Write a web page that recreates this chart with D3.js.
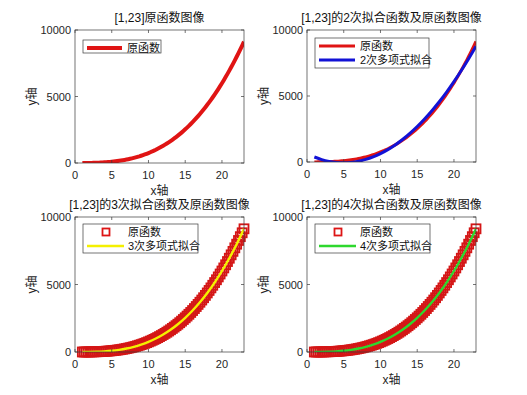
<!DOCTYPE html>
<html>
<head>
<meta charset="utf-8">
<script src="https://cdn.jsdelivr.net/npm/d3@7"></script>
<style>
  body { margin: 0; background: #fff; }
  text { font-family: "Liberation Sans", "Noto Sans CJK SC", sans-serif; fill: #262626; }
</style>
</head>
<body>
<div id="chart"></div>
<script>
// original function, sampled every 0.25
let xOrig = [1, 1.25, 1.5, 1.75, 2, 2.25, 2.5, 2.75, 3, 3.25, 3.5, 3.75, 4, 4.25, 4.5, 4.75, 5, 5.25, 5.5, 5.75,
             6, 6.25, 6.5, 6.75, 7, 7.25, 7.5, 7.75, 8, 8.25, 8.5, 8.75, 9, 9.25, 9.5, 9.75, 10, 10.25, 10.5, 10.75,
             11, 11.25, 11.5, 11.75, 12, 12.25, 12.5, 12.75, 13, 13.25, 13.5, 13.75, 14, 14.25, 14.5, 14.75, 15, 15.25, 15.5, 15.75,
             16, 16.25, 16.5, 16.75, 17, 17.25, 17.5, 17.75, 18, 18.25, 18.5, 18.75, 19, 19.25, 19.5, 19.75, 20, 20.25, 20.5, 20.75,
             21, 21.25, 21.5, 21.75, 22, 22.25, 22.5, 22.75, 23]
let yOrig = [1, 1, 3, 4, 6, 9, 12, 16, 20, 26, 32, 40, 48, 58, 68, 80, 94, 109, 125, 143,
             162, 183, 206, 231, 257, 286, 316, 349, 384, 421, 461, 502, 547, 594, 643, 695, 750, 808, 868, 932,
             998, 1068, 1141, 1217, 1296, 1379, 1465, 1555, 1648, 1745, 1845, 1950, 2058, 2170, 2286, 2407, 2531, 2660, 2793, 2930,
             3072, 3218, 3369, 3525, 3685, 3850, 4020, 4194, 4374, 4559, 4749, 4944, 5144, 5350, 5561, 5778, 6000, 6228, 6461, 6701,
             6946, 7197, 7454, 7717, 7986, 8261, 8543, 8831, 9125]

// fitted polynomials, sampled at integers
let xFit = [1, 2, 3, 4, 5, 6, 7, 8, 9, 10, 11, 12, 13, 14, 15, 16, 17, 18, 19, 20, 21, 22, 23]
let yFit2 = [380, 180, 40, -40, -64, -31, 55, 195, 389, 637, 940, 1296, 1706, 2171, 2689, 3261, 3887, 4568, 5302, 6090, 6932, 7829, 8760]
let yFit3 = [1, 6, 20, 48, 94, 162, 257, 384, 547, 750, 998, 1296, 1648, 2058, 2531, 3072, 3685, 4374, 5144, 6000, 6946, 7986, 9125]
let yFit4 = [1, 6, 20, 48, 94, 162, 257, 384, 547, 750, 998, 1296, 1648, 2058, 2531, 3072, 3685, 4374, 5144, 6000, 6946, 7986, 9125]

let xTicks = [0, 5, 10, 15, 20]
let yTicks = [0, 5000, 10000]

let titles = ["[1,23]原函数图像", "[1,23]的2次拟合函数及原函数图像", "[1,23]的3次拟合函数及原函数图像", "[1,23]的4次拟合函数及原函数图像"]
let origName = "原函数"
let fitNames = ["2次多项式拟合", "3次多项式拟合", "4次多项式拟合"]

let width = 527
let height = 395

let svg = d3.select("#chart")
    .append("svg")
    .attr("width", width)
    .attr("height", height)

let panels = [
    { left: 75, top: 30, right: 244, bottom: 163 },
    { left: 307, top: 30, right: 476, bottom: 162 },
    { left: 75, top: 217, right: 244, bottom: 352 },
    { left: 307, top: 217, right: 476, bottom: 352 }
]

function drawAxes(g, p, i, xScale, yScale) {
    g.append("text")
        .attr("x", (p.left + p.right) / 2)
        .attr("y", p.top - 8)
        .attr("text-anchor", "middle")
        .attr("font-size", 12)
        .style("fill", "#111")
        .text(titles[i])

    let frame = g.append("g").attr("stroke", "#3a3a3a").attr("stroke-width", 0.7)
    frame.append("rect")
        .attr("x", p.left).attr("y", p.top)
        .attr("width", p.right - p.left).attr("height", p.bottom - p.top)
        .attr("fill", "none")

    xTicks.forEach(function(t) {
        let x = xScale(t)
        frame.append("line").attr("x1", x).attr("x2", x).attr("y1", p.bottom).attr("y2", p.bottom - 3)
        frame.append("line").attr("x1", x).attr("x2", x).attr("y1", p.top).attr("y2", p.top + 3)
        g.append("text")
            .attr("x", x).attr("y", p.bottom + 16)
            .attr("text-anchor", "middle").attr("font-size", 11)
            .text(t)
    })
    yTicks.forEach(function(t) {
        let y = yScale(t)
        frame.append("line").attr("x1", p.left).attr("x2", p.left + 3).attr("y1", y).attr("y2", y)
        frame.append("line").attr("x1", p.right).attr("x2", p.right - 3).attr("y1", y).attr("y2", y)
        g.append("text")
            .attr("x", p.left - 4).attr("y", y + 4)
            .attr("text-anchor", "end").attr("font-size", 11)
            .text(t)
    })

    g.append("text")
        .attr("x", (p.left + p.right) / 2)
        .attr("y", p.bottom + 32)
        .attr("text-anchor", "middle").attr("font-size", 12)
        .text("x轴")

    g.append("text")
        .attr("transform", `translate(${p.left - 43}, ${(p.top + p.bottom) / 2}) rotate(-90)`)
        .attr("text-anchor", "middle").attr("dominant-baseline", "central").attr("font-size", 12)
        .text("y轴")
}

function drawLegend(g, box, rows) {
    g.append("rect")
        .attr("x", box.x).attr("y", box.y)
        .attr("width", box.w).attr("height", box.h)
        .attr("fill", "#fff").attr("stroke", "#3a3a3a").attr("stroke-width", 0.7)
    rows.forEach(function(r, k) {
        let y = box.y + 8 + k * 14
        if (r.marker) {
            g.append("rect")
                .attr("x", box.x + box.markX - 3.5).attr("y", y - 3.5)
                .attr("width", 7).attr("height", 7)
                .attr("fill", "none").attr("stroke", r.color).attr("stroke-width", 1.8)
        } else {
            g.append("line")
                .attr("x1", box.x + 4).attr("x2", box.x + box.lineLen)
                .attr("y1", y).attr("y2", y)
                .attr("stroke", r.color).attr("stroke-width", r.width)
        }
        g.append("text")
            .attr("x", box.x + box.textX).attr("y", y + 4)
            .attr("font-size", 11).style("fill", "#111")
            .text(r.label)
    })
}

let fitData = [yFit2, yFit3, yFit4]
let fitColors = ["#1212d6", "#f4f000", "#2ed82e"]

panels.forEach(function(p, i) {
    let g = svg.append("g")
    let xScale = d3.scaleLinear().domain([0, 23]).range([p.left, p.right])
    let yScale = d3.scaleLinear().domain([0, 10000]).range([p.bottom, p.top])

    g.append("clipPath").attr("id", "clip" + i)
        .append("rect")
        .attr("x", p.left).attr("y", p.top)
        .attr("width", p.right - p.left).attr("height", p.bottom - p.top)

    let orig = xOrig.map(function(x, k) { return [x, yOrig[k]] })
    let line = d3.line()
        .x(function(d) { return xScale(d[0]) })
        .y(function(d) { return yScale(d[1]) })
    let fitLine = d3.line()
        .x(function(d) { return xScale(d[0]) })
        .y(function(d) { return yScale(d[1]) })
        .curve(d3.curveNatural)

    let markers = g.append("g")
    let plot = g.append("g").attr("clip-path", `url(#clip${i})`)

    if (i < 2) {
        plot.append("path")
            .datum(orig)
            .attr("d", line)
            .attr("fill", "none")
            .attr("stroke", "#e01414")
            .attr("stroke-width", i === 0 ? 4 : 3.2)
    } else {
        markers.selectAll("rect")
            .data(orig)
            .enter()
            .append("rect")
            .attr("x", function(d) { return xScale(d[0]) - 4.5 })
            .attr("y", function(d) { return yScale(d[1]) - 4.5 })
            .attr("width", 9).attr("height", 9)
            .attr("fill", "none")
            .attr("stroke", "#d41616")
            .attr("stroke-width", 1.8)
    }

    if (i > 0) {
        let fit = xFit.map(function(x, k) { return [x, fitData[i - 1][k]] })
        plot.append("path")
            .datum(fit)
            .attr("d", fitLine)
            .attr("fill", "none")
            .attr("stroke", fitColors[i - 1])
            .attr("stroke-width", i === 1 ? 3 : 2.4)
    }

    drawAxes(g, p, i, xScale, yScale)

    if (i === 0) {
        drawLegend(g, { x: 83, y: 40, w: 78, h: 13, lineLen: 39, textX: 44 },
            [{ label: origName, color: "#e01414", width: 4 }])
    } else if (i === 1) {
        drawLegend(g, { x: 315, y: 38, w: 114, h: 30, lineLen: 40, textX: 45 },
            [{ label: origName, color: "#e01414", width: 3 }, { label: fitNames[0], color: fitColors[0], width: 3 }])
    } else {
        let bx = i === 2 ? 83 : 315
        drawLegend(g, { x: bx, y: 224, w: 115, h: 29, lineLen: 41, textX: 45, markX: 23 },
            [{ label: origName, color: "#dd1515", marker: true }, { label: fitNames[i - 1], color: fitColors[i - 1], width: 2.6 }])
    }
})
</script>
</body>
</html>
